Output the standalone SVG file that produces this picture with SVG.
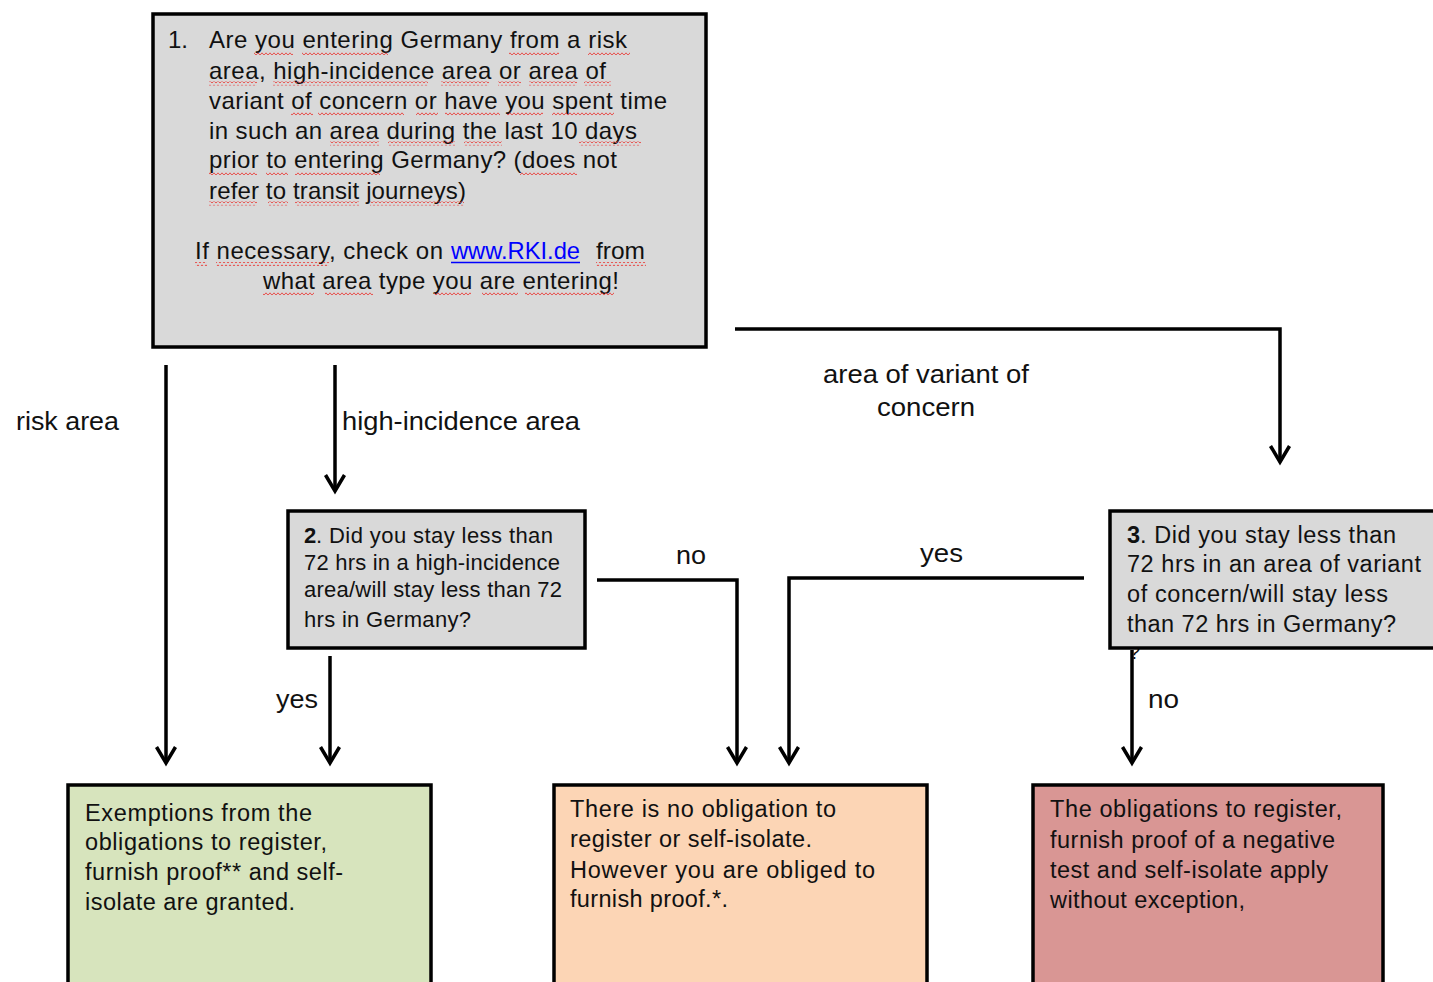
<svg xmlns="http://www.w3.org/2000/svg" width="1433" height="982" viewBox="0 0 1433 982">
<defs>
<style>
text{font-family:"Liberation Sans",Arial,sans-serif;fill:#111}
.t1{font-size:24px}
.t2{font-size:22px}
.t3{font-size:23.5px}
.lb{font-size:26px}
.b{font-weight:bold}
.box{stroke:#000;stroke-width:3.5}
.con{fill:none;stroke:#000;stroke-width:3.5;stroke-linejoin:miter}
.wv{fill:url(#wavy)}
</style>
<pattern id="wavy" patternUnits="userSpaceOnUse" width="4" height="4">
<path d="M0,3.2 L2,0.8 L4,3.2" fill="none" stroke="#e8413c" stroke-width="0.9"/>
</pattern>
<marker id="arr" markerUnits="userSpaceOnUse" viewBox="-20 -12 24 24" refX="0" refY="0" markerWidth="24" markerHeight="24" orient="auto" overflow="visible">
<path d="M-16,-9.5 L0,0 L-16,9.5" fill="none" stroke="#000" stroke-width="3.5"/>
</marker>
</defs>
<rect width="1433" height="982" fill="#fff"/>

<g id="connectors">
<path class="con" d="M166,365 V763" marker-end="url(#arr)"/>
<path class="con" d="M335,365 V491" marker-end="url(#arr)"/>
<path class="con" d="M735,329 H1280 V462" marker-end="url(#arr)"/>
<path class="con" d="M330,656 V763" marker-end="url(#arr)"/>
<path class="con" d="M597,580 H737 V763" marker-end="url(#arr)"/>
<path class="con" d="M1084,578 H789 V763" marker-end="url(#arr)"/>
<path class="con" d="M1132,650 V763" marker-end="url(#arr)"/>
<text class="lb" x="16" y="430" textLength="103" lengthAdjust="spacingAndGlyphs">risk area</text>
<text class="lb" x="342" y="430" textLength="238" lengthAdjust="spacingAndGlyphs">high-incidence area</text>
<text class="lb" x="823" y="383" textLength="206" lengthAdjust="spacingAndGlyphs">area of variant of</text>
<text class="lb" x="877" y="416" textLength="98" lengthAdjust="spacingAndGlyphs">concern</text>
<text class="lb" x="676" y="564" textLength="30" lengthAdjust="spacingAndGlyphs">no</text>
<text class="lb" x="920" y="562" textLength="43" lengthAdjust="spacingAndGlyphs">yes</text>
<text class="lb" x="276" y="708" textLength="42" lengthAdjust="spacingAndGlyphs">yes</text>
<text class="lb" x="1148" y="708" textLength="31" lengthAdjust="spacingAndGlyphs">no</text>
<text x="1129" y="659" font-size="20">?</text>
</g>

<g id="node1">
<rect class="box" x="153" y="14" width="553" height="333" fill="#d9d9d9"/>
<text class="t1" x="168" y="48">1.</text>
<text class="t1" x="209" y="48" textLength="418">Are you entering Germany from a risk</text>
<text class="t1" x="209" y="78.5" textLength="397">area, high-incidence area or area of</text>
<text class="t1" x="209" y="109" textLength="458">variant of concern or have you spent time</text>
<text class="t1" x="209" y="138.5" textLength="428">in such an area during the last 10 days</text>
<text class="t1" x="209" y="168" textLength="408">prior to entering Germany? (does not</text>
<text class="t1" x="209" y="198.5" textLength="257">refer to transit journeys)</text>
<text class="t1" x="195" y="259" textLength="248">If necessary, check on</text>
<text class="t1" x="451" y="259" textLength="129" lengthAdjust="spacingAndGlyphs" style="fill:#0000ff">www.RKI.de</text>
<line x1="451" y1="262.5" x2="580" y2="262.5" stroke="#0000ff" stroke-width="1.5"/>
<text class="t1" x="596" y="259" textLength="49" lengthAdjust="spacingAndGlyphs">from</text>
<text class="t1" x="263" y="288.5" textLength="356">what area type you are entering!</text>
<g id="spellcheck">
<rect class="wv" x="254" y="51" width="39" height="4"/>
<rect class="wv" x="302" y="51" width="86" height="4"/>
<rect class="wv" x="509" y="51" width="50" height="4"/>
<rect class="wv" x="588" y="51" width="42" height="4"/>
<rect class="wv" x="209" y="81.5" width="48" height="4"/>
<rect class="wv" x="273" y="81.5" width="155" height="4"/>
<rect class="wv" x="441" y="81.5" width="48" height="4"/>
<rect class="wv" x="498" y="81.5" width="23" height="4"/>
<rect class="wv" x="529" y="81.5" width="48" height="4"/>
<rect class="wv" x="584" y="81.5" width="27" height="4"/>
<rect class="wv" x="291" y="112" width="22" height="4"/>
<rect class="wv" x="318" y="112" width="86" height="4"/>
<rect class="wv" x="416" y="112" width="22" height="4"/>
<rect class="wv" x="445" y="112" width="55" height="4"/>
<rect class="wv" x="507" y="112" width="36" height="4"/>
<rect class="wv" x="552" y="112" width="62" height="4"/>
<rect class="wv" x="330" y="141.5" width="49" height="4"/>
<rect class="wv" x="388" y="141.5" width="67" height="4"/>
<rect class="wv" x="464" y="141.5" width="38" height="4"/>
<rect class="wv" x="579" y="141.5" width="62" height="4"/>
<rect class="wv" x="209" y="171" width="48" height="4"/>
<rect class="wv" x="266" y="171" width="22" height="4"/>
<rect class="wv" x="295" y="171" width="85" height="4"/>
<rect class="wv" x="520" y="171" width="57" height="4"/>
<rect class="wv" x="209" y="201.5" width="48" height="4"/>
<rect class="wv" x="268" y="201.5" width="20" height="4"/>
<rect class="wv" x="295" y="201.5" width="64" height="4"/>
<rect class="wv" x="370" y="201.5" width="94" height="4"/>
<rect class="wv" x="195" y="262" width="12" height="4"/>
<rect class="wv" x="216" y="262" width="113" height="4"/>
<rect class="wv" x="596" y="262" width="50" height="4"/>
<rect class="wv" x="263" y="291.5" width="51" height="4"/>
<rect class="wv" x="325" y="291.5" width="48" height="4"/>
<rect class="wv" x="434" y="291.5" width="37" height="4"/>
<rect class="wv" x="482" y="291.5" width="36" height="4"/>
<rect class="wv" x="525" y="291.5" width="89" height="4"/>
</g>
</g>

<g id="node2">
<rect class="box" x="288" y="511" width="297" height="137" fill="#d9d9d9"/>
<text class="t2 b" x="304" y="543">2</text>
<text class="t2" x="316" y="543" textLength="237">. Did you stay less than</text>
<text class="t2" x="304" y="570" textLength="256">72 hrs in a high-incidence</text>
<text class="t2" x="304" y="597" textLength="258">area/will stay less than 72</text>
<text class="t2" x="304" y="627" textLength="167">hrs in Germany?</text>
</g>

<g id="node3">
<rect class="box" x="1110" y="511" width="340" height="137" fill="#d9d9d9"/>
<text class="t3 b" x="1127" y="543">3</text>
<text class="t3" x="1140" y="543" textLength="256">. Did you stay less than</text>
<text class="t3" x="1127" y="572" textLength="294">72 hrs in an area of variant</text>
<text class="t3" x="1127" y="602" textLength="261">of concern/will stay less</text>
<text class="t3" x="1127" y="632" textLength="269">than 72 hrs in Germany?</text>
</g>

<g id="node4">
<rect class="box" x="68" y="785" width="363" height="220" fill="#d7e4bd"/>
<text class="t3" x="85" y="821" textLength="227">Exemptions from the</text>
<text class="t3" x="85" y="850" textLength="242">obligations to register,</text>
<text class="t3" x="85" y="880" textLength="258">furnish proof** and self-</text>
<text class="t3" x="85" y="910" textLength="210">isolate are granted.</text>
</g>

<g id="node5">
<rect class="box" x="554" y="785" width="373" height="220" fill="#fcd5b5"/>
<text class="t3" x="570" y="817" textLength="266">There is no obligation to</text>
<text class="t3" x="570" y="847" textLength="242">register or self-isolate.</text>
<text class="t3" x="570" y="878" textLength="305">However you are obliged to</text>
<text class="t3" x="570" y="907" textLength="158">furnish proof.*.</text>
</g>

<g id="node6">
<rect class="box" x="1033" y="785" width="350" height="220" fill="#d99694"/>
<text class="t3" x="1050" y="817" textLength="292">The obligations to register,</text>
<text class="t3" x="1050" y="848" textLength="285">furnish proof of a negative</text>
<text class="t3" x="1050" y="878" textLength="278">test and self-isolate apply</text>
<text class="t3" x="1050" y="908" textLength="195">without exception,</text>
</g>
</svg>
